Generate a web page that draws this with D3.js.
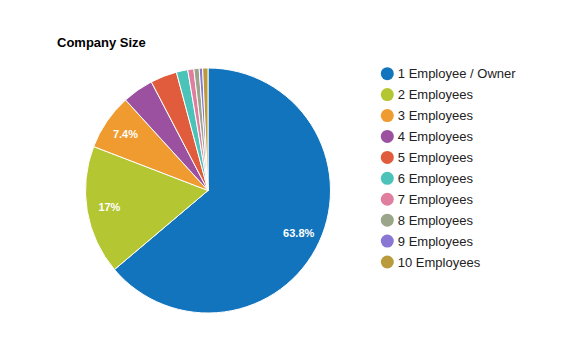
<!DOCTYPE html>
<html>
<head>
<meta charset="utf-8">
<script src="https://cdn.jsdelivr.net/npm/d3@7"></script>
<style>
  html, body { margin: 0; padding: 0; background: #fff; }
  svg { display: block; font-family: Arial, "Liberation Sans", sans-serif; }
</style>
</head>
<body>
<svg id="chart" width="579" height="359"></svg>
<script>
const categories = ["1 Employee / Owner", "2 Employees", "3 Employees", "4 Employees", "5 Employees",
  "6 Employees", "7 Employees", "8 Employees", "9 Employees", "10 Employees"];
const values = [63.8, 17, 7.4, 4.1, 3.5, 1.5, 0.8, 0.7, 0.45, 0.7];
const colors = ["#1274bd", "#b5c633", "#f09b2f", "#9c50a0", "#e05c3c", "#4cc3b9", "#e07ea0", "#9ba58a", "#8a77d4", "#b99b3d"];
const labelTexts = ["63.8%", "17%", "7.4%", "", "", "", "", "", "", ""];
const title = "Company Size";

const svg = d3.select("#chart");
const cx = 208, cy = 190.5, r = 122.5;

svg.append("text")
  .attr("x", 57).attr("y", 46.5)
  .attr("font-size", 13).attr("font-weight", "bold").attr("fill", "#000")
  .text(title);

const color = d3.scaleOrdinal().domain(categories).range(colors);
const pie = d3.pie().sort(null).value(d => d.v);
const data = categories.map((c, i) => ({ c, v: values[i], label: labelTexts[i] }));
const arcs = pie(data);
const arc = d3.arc().innerRadius(0).outerRadius(r);
const labelArc = d3.arc().innerRadius(100).outerRadius(100);

const g = svg.append("g").attr("transform", `translate(${cx},${cy})`);
g.selectAll("path").data(arcs).join("path")
  .attr("d", arc)
  .attr("fill", d => color(d.data.c))
  .attr("stroke", "#fff").attr("stroke-width", 1);

g.selectAll("text.lbl").data(arcs.filter(d => d.data.label)).join("text")
  .attr("class", "lbl")
  .attr("transform", d => `translate(${labelArc.centroid(d)})`)
  .attr("text-anchor", "middle").attr("dy", "0.36em")
  .attr("font-size", 11).attr("font-weight", "bold").attr("fill", "#fff")
  .text(d => d.data.label);

const y = d3.scalePoint().domain(categories).range([73.7, 262]);
const lg = svg.append("g");
const items = lg.selectAll("g").data(categories).join("g")
  .attr("transform", d => `translate(387.3,${y(d)})`);
items.append("circle").attr("r", 6.5).attr("fill", d => color(d));
items.append("text").attr("x", 10.5).attr("dy", "0.36em")
  .attr("font-size", 13).attr("fill", "#222").text(d => d);
</script>
</body>
</html>
